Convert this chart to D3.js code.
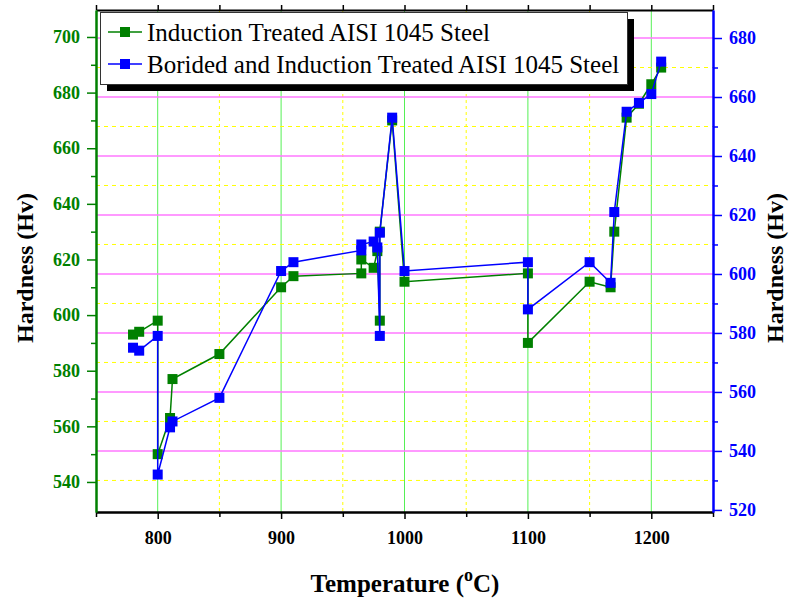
<!DOCTYPE html>
<html>
<head>
<meta charset="utf-8">
<script src="https://cdn.jsdelivr.net/npm/d3@7"></script>
<style>
  html, body { margin: 0; padding: 0; background: #fff; }
  svg { display: block; }
</style>
</head>
<body>
<svg id="chart" width="789" height="602"></svg>
<script>
// ---------------- data ----------------
const temperature = [780, 785, 800, 800, 810, 812, 850, 900, 910, 965, 965, 975, 978, 980, 980, 990, 1000, 1100, 1100, 1150, 1167, 1170, 1180, 1190, 1200, 1208];
const hardnessInduction = [593, 594, 598, 550, 563, 577, 586, 610, 614, 615, 620, 617, 623, 598, 630, 670, 612, 615, 590, 612, 610, 630, 671, 676, 683, 689];
const hardnessBorided   = [575, 574, 579, 532, 548, 550, 558, 601, 604, 608, 610, 611, 609, 579, 614, 653, 601, 604, 588, 604, 597, 621, 655, 658, 661, 672];
const seriesNames = ["Induction Treated AISI 1045 Steel", "Borided and Induction Treated AISI 1045 Steel"];
const xTicks = [800, 900, 1000, 1100, 1200];
const xMinorTicks = [750, 850, 950, 1050, 1150, 1250];
const leftTicks = [540, 560, 580, 600, 620, 640, 660, 680, 700];
const leftMinorTicks = [550, 570, 590, 610, 630, 650, 670, 690];
const rightTicks = [520, 540, 560, 580, 600, 620, 640, 660, 680];
const rightMinorTicks = [530, 550, 570, 590, 610, 630, 650, 670];
const xTitle = "Temperature (";
const yTitle = "Hardness (Hv)";

// ---------------- layout ----------------
const L = 96, R = 713, T = 10, B = 512;
const GREEN = "#008000", BLUE = "#0000ff";
const FONT = "'Liberation Serif', 'Times New Roman', serif";

const x = d3.scaleLinear().domain([750, 1250]).range([L, R]);
const yL = d3.scaleLinear().domain([529.2, 709.7]).range([B, T]);
const yR = d3.scaleLinear().domain([519.3, 689.5]).range([B, T]);

const svg = d3.select("#chart");

// ---------------- grid ----------------
const grid = svg.append("g");
grid.selectAll(".vmaj").data(xTicks).join("line")
  .attr("x1", d => x(d)).attr("x2", d => x(d)).attr("y1", T).attr("y2", B)
  .attr("stroke", "#55f055").attr("stroke-width", 1);
grid.selectAll(".vmin").data(xMinorTicks.filter(d => d > 750 && d < 1250)).join("line")
  .attr("x1", d => x(d)).attr("x2", d => x(d)).attr("y1", T).attr("y2", B)
  .attr("stroke", "#ffff00").attr("stroke-width", 1).attr("stroke-dasharray", "3,3");
grid.selectAll(".hmaj").data(rightTicks.filter(d => d > 525)).join("line")
  .attr("x1", L).attr("x2", R).attr("y1", d => yR(d)).attr("y2", d => yR(d))
  .attr("stroke", "#ff77ff").attr("stroke-width", 1.5);
grid.selectAll(".hmin").data(rightMinorTicks).join("line")
  .attr("x1", L).attr("x2", R).attr("y1", d => yR(d)).attr("y2", d => yR(d))
  .attr("stroke", "#ffff00").attr("stroke-width", 1).attr("stroke-dasharray", "4,4");

// ---------------- series ----------------
function drawSeries(vals, yScale, color) {
  const pts = temperature.map((t, i) => [t, vals[i]]);
  const line = d3.line().x(d => x(d[0])).y(d => yScale(d[1]));
  svg.append("path").datum(pts).attr("d", line)
    .attr("fill", "none").attr("stroke", color).attr("stroke-width", 1.5);
  svg.append("g").selectAll("rect").data(pts).join("rect")
    .attr("x", d => x(d[0]) - 5).attr("y", d => yScale(d[1]) - 5)
    .attr("width", 10).attr("height", 10).attr("fill", color);
}
drawSeries(hardnessInduction, yL, GREEN);
drawSeries(hardnessBorided, yR, BLUE);

// ---------------- axes ----------------
function styleAxis(g, color, width) {
  g.select(".domain").attr("stroke", color).attr("stroke-width", width);
  g.selectAll(".tick line").attr("stroke", color).attr("stroke-width", 1.5);
  g.selectAll(".tick text").attr("fill", color).attr("font-family", FONT)
    .attr("font-weight", "bold").attr("font-size", 18);
}

// bottom
const gxMin = svg.append("g").attr("transform", `translate(0,${B})`)
  .call(d3.axisBottom(x).tickValues(xMinorTicks).tickSize(5).tickFormat("").tickSizeOuter(0));
styleAxis(gxMin, "#000", 2);
const gx = svg.append("g").attr("transform", `translate(0,${B})`)
  .call(d3.axisBottom(x).tickValues(xTicks).tickSize(7).tickPadding(12).tickFormat(d3.format("d")).tickSizeOuter(0));
styleAxis(gx, "#000", 2);

// top
const gt = svg.append("g").attr("transform", `translate(0,${T})`)
  .call(d3.axisTop(x).tickValues(xTicks.concat(xMinorTicks)).tickSize(5).tickFormat("").tickSizeOuter(0));
styleAxis(gt, "#000", 2);

// left
const gyMin = svg.append("g").attr("transform", `translate(${L},0)`)
  .call(d3.axisLeft(yL).tickValues(leftMinorTicks).tickSize(5).tickFormat("").tickSizeOuter(0));
styleAxis(gyMin, GREEN, 2);
const gy = svg.append("g").attr("transform", `translate(${L},0)`)
  .call(d3.axisLeft(yL).tickValues(leftTicks).tickSize(9).tickPadding(7).tickFormat(d3.format("d")).tickSizeOuter(0));
styleAxis(gy, GREEN, 2);

// right
const gyrMin = svg.append("g").attr("transform", `translate(${R},0)`)
  .call(d3.axisRight(yR).tickValues(rightMinorTicks).tickSize(5).tickFormat("").tickSizeOuter(0));
styleAxis(gyrMin, BLUE, 2);
const gyr = svg.append("g").attr("transform", `translate(${R},0)`)
  .call(d3.axisRight(yR).tickValues(rightTicks).tickSize(9).tickPadding(7).tickFormat(d3.format("d")).tickSizeOuter(0));
styleAxis(gyr, BLUE, 2);

// ---------------- titles ----------------
const xt = svg.append("text").attr("x", 405).attr("y", 592)
  .attr("text-anchor", "middle").attr("font-family", FONT).attr("font-weight", "bold")
  .attr("font-size", 25).attr("fill", "#000");
xt.append("tspan").text(xTitle);
xt.append("tspan").attr("dy", -11).attr("font-size", 18).text("o");
xt.append("tspan").attr("dy", 11).text("C)");

svg.append("text").attr("transform", "translate(33,268) rotate(-90)")
  .attr("text-anchor", "middle").attr("font-family", FONT).attr("font-weight", "bold")
  .attr("font-size", 24).attr("fill", "#000").text(yTitle);
svg.append("text").attr("transform", "translate(783,268) rotate(-90)")
  .attr("text-anchor", "middle").attr("font-family", FONT).attr("font-weight", "bold")
  .attr("font-size", 24).attr("fill", "#000").text(yTitle);

// ---------------- legend ----------------
const lg = svg.append("g");
lg.append("rect").attr("x", 107).attr("y", 19).attr("width", 527).attr("height", 72).attr("fill", "#000");
lg.append("rect").attr("x", 100.5).attr("y", 12.5).attr("width", 527).attr("height", 72)
  .attr("fill", "#fff").attr("stroke", "#333").attr("stroke-width", 1);
const legendColors = [GREEN, BLUE];
const legendY = [32, 64];
seriesNames.forEach((name, i) => {
  const yy = legendY[i];
  lg.append("line").attr("x1", 108).attr("x2", 142).attr("y1", yy).attr("y2", yy)
    .attr("stroke", legendColors[i]).attr("stroke-width", 1.5);
  lg.append("rect").attr("x", 120).attr("y", yy - 5).attr("width", 10).attr("height", 10)
    .attr("fill", legendColors[i]);
  lg.append("text").attr("x", 147).attr("y", yy).attr("dy", "0.34em")
    .attr("font-family", FONT).attr("font-size", 25).attr("fill", "#000").text(name);
});
</script>
</body>
</html>
